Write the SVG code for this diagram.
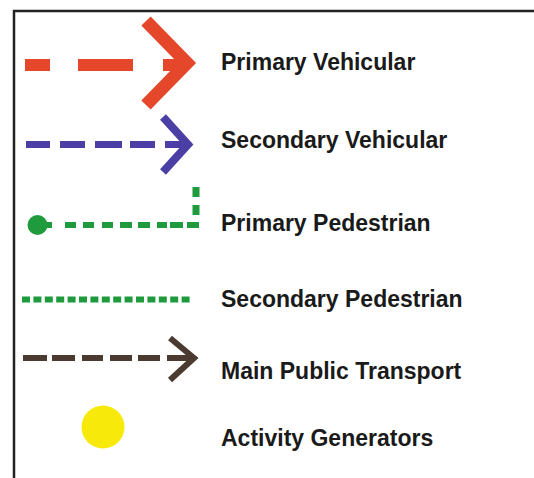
<svg xmlns="http://www.w3.org/2000/svg" width="534" height="478" viewBox="0 0 534 478">
<style>
.lbl{font-family:"Liberation Sans",Arial,Helvetica,sans-serif;font-weight:bold;font-size:23px;fill:#1a1a1a}
.pv{stroke:#e5472b;fill:none}
.sv{stroke:#4b3fa6;fill:none}
.pp{stroke:#1f9b3d;fill:none}
.mt{stroke:#4a3a30;fill:none}
</style>
<rect width="534" height="478" fill="#ffffff"/>
<g id="frame">
<path d="M14,478 V11 H534" fill="none" stroke="#222" stroke-width="2.5"/>
</g>
<g id="connectors">
<g id="primary-vehicular">
<path class="pv" stroke-width="12" d="M25,65 H50 M78,65 H133 M163,65 H186"/>
<path class="pv" stroke-width="13" stroke-linejoin="miter" d="M146,21 L187,63 L146,105"/>
</g>
<g id="secondary-vehicular">
<path class="sv" stroke-width="7" d="M26,144.5 H50 M60,144.5 H85 M95,144.5 H122 M130,144.5 H155 M165,144.5 H187"/>
<path class="sv" stroke-width="8" d="M163,117 L188,144.5 L163,172"/>
</g>
<g id="primary-pedestrian">
<circle cx="37.5" cy="225" r="10" fill="#1f9b3d"/>
<path class="pp" stroke-width="6" d="M40,225 H52 M65,225 H76 M83,225 H94 M102,225 H113 M120,225 H132 M138,225 H150 M157,225 H167 M170,225 H183 M187,225 H199"/>
<path class="pp" stroke-width="7" d="M196,187 V197 M196,205 V215"/>
</g>
<g id="secondary-pedestrian">
<path class="pp" stroke-width="6" stroke-dasharray="8 3.4" d="M22,299.5 H193"/>
</g>
<g id="main-public-transport">
<path class="mt" stroke-width="6" d="M23,358 H47 M52,358 H75 M82,358 H103 M110,358 H132 M138,358 H160 M167,358 H192"/>
<path class="mt" stroke-width="6" d="M170,338 L194,358 L170,380"/>
</g>
</g>
<g id="activity-generator">
<circle cx="103" cy="427" r="21.5" fill="#f7ea0a"/>
</g>
<g id="labels">
<text class="lbl" x="221" y="70">Primary Vehicular</text>
<text class="lbl" x="221" y="148">Secondary Vehicular</text>
<text class="lbl" x="221" y="231">Primary Pedestrian</text>
<text class="lbl" x="221" y="307">Secondary Pedestrian</text>
<text class="lbl" x="221" y="379">Main Public Transport</text>
<text class="lbl" x="221" y="446">Activity Generators</text>
</g>
</svg>
